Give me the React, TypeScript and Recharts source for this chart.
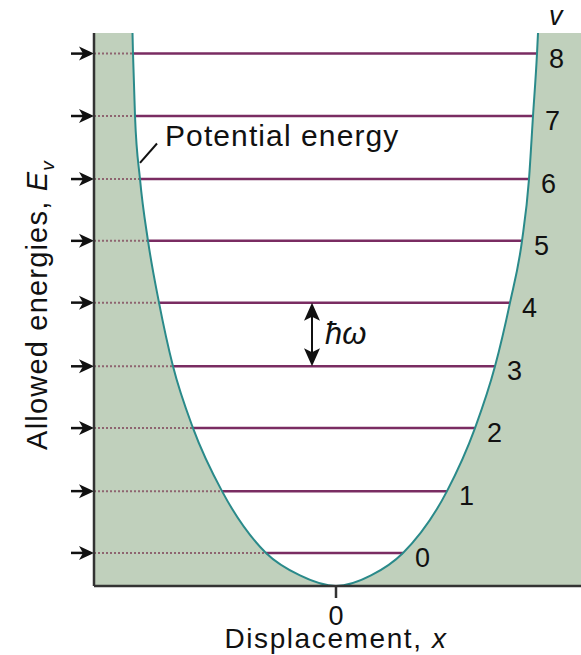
import React from "react";
import {
  Area,
  CartesianGrid,
  ComposedChart,
  Line,
  ReferenceLine,
  XAxis,
  YAxis,
} from "recharts";

// vibrational quantum numbers and their allowed energies (in units of ħω)
const levels = [0, 1, 2, 3, 4, 5, 6, 7, 8];
const levelEnergy = [0.53, 1.52, 2.53, 3.52, 4.54, 5.53, 6.52, 7.53, 8.53];
// classical turning points of each level (where it meets the curve)
const leftTurn = [-0.7, -1.14, -1.43, -1.63, -1.77, -1.88, -1.96, -2.01, -2.03];
const rightTurn = [0.67, 1.11, 1.39, 1.59, 1.74, 1.86, 1.93, 1.97, 2.01];

// potential energy curve
const curveX = [-2.035, -2.03, -2.01, -1.96, -1.88, -1.77, -1.63, -1.43, -1.14, -0.7, -0.36, 0, 0.35, 0.67, 1.11, 1.39, 1.59, 1.74, 1.86, 1.93, 1.97, 2.01, 2.02];
const curveE = [8.86, 8.53, 7.53, 6.52, 5.53, 4.54, 3.52, 2.53, 1.52, 0.53, 0.17, 0, 0.17, 0.53, 1.52, 2.53, 3.52, 4.54, 5.53, 6.52, 7.53, 8.53, 8.86];

const xTicks = [0];

const E_TOP = 8.86;
const X_MIN = -2.42;
const X_MAX = 2.45;

const FONT = "'Liberation Sans', Arial, Helvetica, sans-serif";
const GREEN = "#c0d0bc";
const TEAL = "#2a8a8a";
const PURPLE = "#7a2c62";
const DOTS = "#8e6470";
const INK = "#111";

const curveData = curveX.map((x, i) => ({ x, E: curveE[i], band: [curveE[i], E_TOP] }));

const DottedLevel = (props: any) => {
  const { x1, y1, x2, y2 } = props;
  return (
    <g>
      <line x1={x1} y1={y1} x2={x2} y2={y2} stroke={DOTS} strokeWidth={2} strokeDasharray="2 2" />
      <line x1={x1 - 23} y1={y1} x2={x1 - 8} y2={y1} stroke={INK} strokeWidth={2.5} />
      <path
        d={`M${x1},${y1} L${x1 - 15},${y1 - 7} L${x1 - 11},${y1} L${x1 - 15},${y1 + 7} Z`}
        fill={INK}
      />
    </g>
  );
};

const solidLevel = (v: number) => (props: any) => {
  const { x1, y1, x2, y2 } = props;
  return (
    <g>
      <line x1={x1} y1={y1} x2={x2} y2={y2} stroke={PURPLE} strokeWidth={2.5} />
      <text x={Math.max(x1, x2) + 12} y={y1 + 14} fontSize={27} fontFamily={FONT} fill={INK}>
        {v}
      </text>
    </g>
  );
};

const DoubleArrow = (props: any) => {
  const { x1, y1, y2 } = props;
  const top = Math.min(y1, y2);
  const bot = Math.max(y1, y2);
  return (
    <g>
      <line x1={x1} y1={top + 10} x2={x1} y2={bot - 10} stroke={INK} strokeWidth={2} />
      <path d={`M${x1},${top} L${x1 - 8},${top + 18} L${x1},${top + 14} L${x1 + 8},${top + 18} Z`} fill={INK} />
      <path d={`M${x1},${bot} L${x1 - 8},${bot - 18} L${x1},${bot - 14} L${x1 + 8},${bot - 18} Z`} fill={INK} />
    </g>
  );
};

export default function App() {
  return (
    <div style={{ position: "absolute", left: 0, top: 0, width: 581, height: 655, background: "#fff" }}>
      <ComposedChart
        width={581}
        height={655}
        data={curveData}
        margin={{ top: 33, right: 0, bottom: 0, left: 70 }}
      >
        <CartesianGrid horizontal={false} vertical={false} fill={GREEN} fillOpacity={1} />
        <XAxis
          type="number"
          dataKey="x"
          domain={[X_MIN, X_MAX]}
          allowDataOverflow
          ticks={xTicks}
          tickSize={12}
          tickMargin={8}
          height={69}
          tick={{ fontSize: 27, fill: INK, fontFamily: FONT }}
          axisLine={{ stroke: "#333", strokeWidth: 2.5 }}
          tickLine={{ stroke: "#333", strokeWidth: 2.5 }}
        />
        <YAxis
          type="number"
          domain={[0, E_TOP]}
          allowDataOverflow
          width={24}
          tick={false}
          tickLine={false}
          axisLine={{ stroke: "#333", strokeWidth: 2.5 }}
        />
        <Area
          type="monotone"
          dataKey="band"
          fill="#fff"
          fillOpacity={1}
          stroke="none"
          isAnimationActive={false}
        />
        {levels.map((v, i) => (
          <ReferenceLine
            key={"d" + v}
            ifOverflow="visible"
            segment={[
              { x: X_MIN, y: levelEnergy[i] },
              { x: leftTurn[i], y: levelEnergy[i] },
            ]}
            shape={DottedLevel}
          />
        ))}
        {levels.map((v, i) => (
          <ReferenceLine
            key={"s" + v}
            ifOverflow="visible"
            segment={[
              { x: leftTurn[i], y: levelEnergy[i] },
              { x: rightTurn[i], y: levelEnergy[i] },
            ]}
            shape={solidLevel(v)}
          />
        ))}
        <ReferenceLine
          ifOverflow="visible"
          segment={[
            { x: -0.24, y: levelEnergy[4] },
            { x: -0.24, y: levelEnergy[3] },
          ]}
          shape={DoubleArrow}
        />
        <ReferenceLine
          ifOverflow="visible"
          segment={[
            { x: -1.79, y: 7.09 },
            { x: -1.96, y: 6.78 },
          ]}
          stroke={INK}
          strokeWidth={2}
        />
        <Line
          type="monotone"
          dataKey="E"
          stroke={TEAL}
          strokeWidth={2}
          dot={false}
          isAnimationActive={false}
        />
      </ComposedChart>
      <svg
        width={581}
        height={655}
        style={{ position: "absolute", left: 0, top: 0, pointerEvents: "none" }}
        fontFamily={FONT}
        fill={INK}
      >
        <text x={165} y={146} fontSize={30} letterSpacing={1.1}>
          Potential energy
        </text>
        <text x={549} y={25} fontSize={27} fontStyle="italic">
          v
        </text>
        <text x={325} y={344} fontSize={31} fontStyle="italic">
          ħω
        </text>
        <text x={336} y={648} fontSize={28} letterSpacing={1.6} textAnchor="middle">
          Displacement, <tspan fontStyle="italic">x</tspan>
        </text>
        <text
          transform="translate(47,305) rotate(-90)"
          fontSize={29}
          letterSpacing={1.2}
          textAnchor="middle"
        >
          Allowed energies, <tspan fontStyle="italic">E</tspan>
          <tspan fontStyle="italic" fontSize={19} dy={7}>
            v
          </tspan>
        </text>
      </svg>
    </div>
  );
}
